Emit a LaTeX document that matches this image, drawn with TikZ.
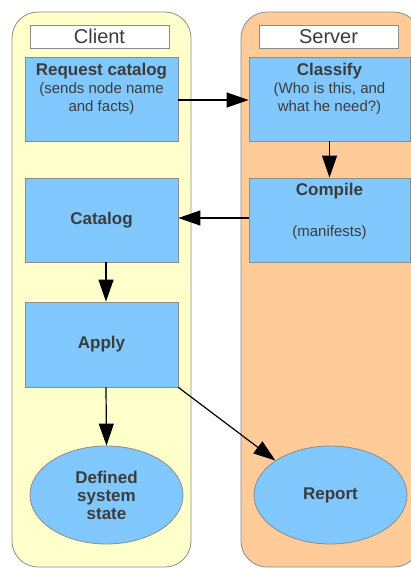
\documentclass[tikz,border=0pt]{standalone}
\usepackage{fontspec}
\setmainfont{Liberation Sans}
\usetikzlibrary{arrows.meta,shapes.geometric}
\definecolor{laneclient}{HTML}{FFFFCC}
\definecolor{laneserver}{HTML}{FFCC99}
\definecolor{stepfill}{HTML}{80C8FF}
\definecolor{edgegray}{HTML}{8C8C8C}
\definecolor{inkgray}{HTML}{3C3C3C}
\newcommand{\topbox}[3]{\parbox[c][#2][t]{#1}{\centering #3}}
\newcommand{\headline}{\bfseries\fontsize{17}{19}\selectfont}
\tikzset{
  lane/.style={draw=edgegray, line width=0.8pt, rounded corners=26pt},
  lanetitle/.style={draw=edgegray, fill=white, line width=0.8pt, minimum width=139pt, minimum height=23pt, inner sep=0pt, text=inkgray, font=\fontsize{20}{22}\selectfont},
  stepbox/.style={draw=edgegray, fill=stepfill, line width=0.8pt, inner sep=0pt, text=inkgray, font=\fontsize{15}{18}\selectfont},
  stepoval/.style={ellipse, draw=edgegray, fill=stepfill, line width=0.8pt, inner sep=0pt, minimum width=153pt, minimum height=98pt, text=inkgray, align=center, font=\bfseries\fontsize{17}{19}\selectfont},
  flow/.style={draw=black, line width=1.2pt, -{Triangle[length=22pt,width=15pt]}},
}
\begin{document}
\begin{tikzpicture}[x=1pt,y=-1pt]
  \useasboundingbox (0,0) rectangle (411,568);
  \clip (0,0) rectangle (411,568);
  % swimlanes
  \draw[lane, fill=laneclient] (12,12) rectangle (191,567);
  \draw[lane, fill=laneserver] (241,12) rectangle (420,567);
  \node[lanetitle] (clienttitle) at (99.5,36.5) {Client};
  \node[lanetitle] (servertitle) at (328.5,36.5) {Server};
  % client steps
  \node[stepbox] (request) at (101.5,99) {\topbox{153pt}{84pt}{\vspace{6pt}{\headline Request catalog\par}(sends node name\\and facts)}};
  \node[stepbox] (catalog) at (101.5,220) {\parbox[c][84pt][c]{153pt}{\centering\headline Catalog}};
  \node[stepbox] (apply) at (101.5,344.5) {\parbox[c][85pt][c]{153pt}{\centering\headline Apply}};
  \node[stepoval] (defined) at (106.5,495) {Defined\\[-1pt]system\\[-1pt]state};
  % server steps
  \node[stepbox] (classify) at (329.5,99) {\topbox{161pt}{84pt}{\vspace{6pt}{\headline Classify\par}(Who is this, and\\what he need?)}};
  \node[stepbox] (compile) at (329.5,220) {\topbox{161pt}{84pt}{\vspace{5pt}{\headline Compile\par}\vspace{23pt}(manifests)}};
  \node[stepoval] (report) at (330.5,495) {Report};
  % message flow
  \coordinate (leftaxis) at (106,0);
  \draw[flow] (request.east |- 0,100) -- (classify.west |- 0,100);
  \draw[flow] (classify.south) -- (compile.north);
  \draw[flow] (compile.west |- 0,218) -- (catalog.east |- 0,218);
  \draw[flow] (leftaxis |- catalog.south) -- (leftaxis |- apply.north);
  \draw[flow] (leftaxis |- apply.south) -- (defined.north);
  \draw[flow] (apply.south east) -- (report.148);
\end{tikzpicture}
\end{document}
